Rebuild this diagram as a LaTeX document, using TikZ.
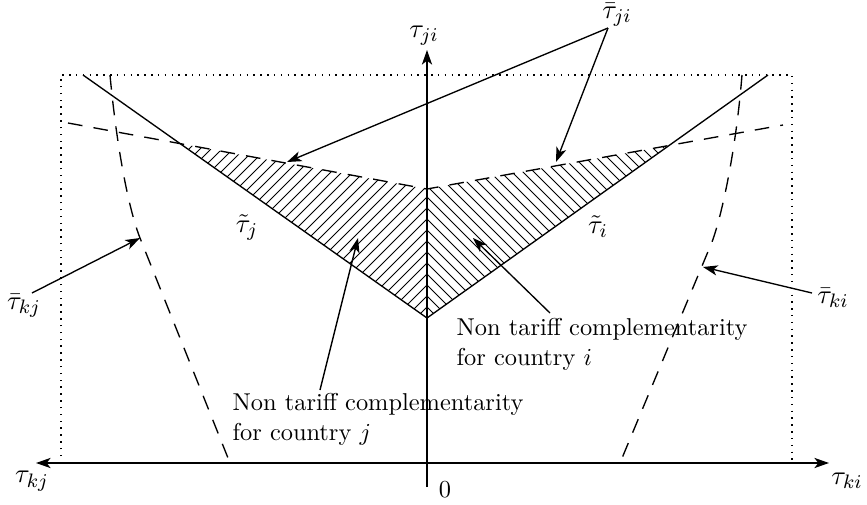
\documentclass[tikz,border=0pt]{standalone}
\usetikzlibrary{arrows.meta}
\begin{document}
\begin{tikzpicture}[x=0.41pt,y=-0.41pt, line width=0.55pt,
  dashedline/.style={dash pattern=on 6pt off 4.6pt},
  dottedline/.style={line width=0.6pt, dash pattern=on 0.6pt off 2.2pt},
  pointer/.style={-{Stealth[length=6pt,width=4.2pt,inset=1.6pt]}},
  hatch/.style={line width=0.4pt},
  lbl/.style={inner sep=1pt, font=\fontsize{11}{13}\selectfont}]
\useasboundingbox (0,0) rectangle (867,505);
% key points
\coordinate (Ytop) at (427,50);
\coordinate (Ybot) at (427,487);
\coordinate (Xl) at (36,463);
\coordinate (Xr) at (829,463);
\coordinate (V) at (427,318);
\coordinate (D) at (427,189);
\coordinate (Lt) at (83,75);
\coordinate (Rt) at (768,75);
\coordinate (DL) at (68,123);
\coordinate (DR) at (783,125);
\coordinate (PL) at (intersection of Lt--V and DL--D);
\coordinate (PR) at (intersection of Rt--V and DR--D);
% dotted box
\coordinate (B1) at (61,463);
\coordinate (B2) at (61,75);
\coordinate (B3) at (792,75);
\coordinate (B4) at (792,463);
\draw[dottedline] (B1) -- (B2) -- (B3) -- (B4);
% hatching
\begin{scope}
\clip (PL) -- (D) -- (V) -- cycle;
\foreach \c in {316,327,...,760} \draw[hatch] (\c-400,400) -- (\c-100,100);
\end{scope}
\begin{scope}
\clip (PR) -- (D) -- (V) -- cycle;
\foreach \c in {98,109,...,530} \draw[hatch] (\c+100,100) -- (\c+400,400);
\end{scope}
% main lines
\draw (Lt) -- (V) -- (Rt);
\draw[dashedline] (DL) -- (D) -- (DR);
% tau bar kj and ki curves
\coordinate (KJt) at (110,75);
\coordinate (KJm) at (140,238);
\coordinate (KJb) at (230,463);
\coordinate (KIt) at (742,75);
\coordinate (KIm) at (712,242);
\coordinate (KIb) at (620,463);
\draw[dashedline] (KJt) .. controls (117,150) and (129,210) .. (KJm) -- (KJb);
\draw[dashedline] (KIt) .. controls (736,150) and (722,215) .. (KIm) -- (KIb);
% axes
\draw[pointer] (Ybot) -- (Ytop);
\draw[{Stealth[length=6pt,width=4.2pt,inset=1.6pt]}-{Stealth[length=6pt,width=4.2pt,inset=1.6pt]}] (Xl) -- (Xr);
% labels
\node[lbl] (tji) at (424,36) {$\tau_{ji}$};
\node[lbl] (tkj) at (32,481) {$\tau_{kj}$};
\node[lbl] (tki) at (847,481) {$\tau_{ki}$};
\node[inner sep=1pt] (zero) at (445,490) {$0$};
\node[lbl] (tj) at (247,227) {$\tilde\tau_j$};
\node[lbl] (ti) at (598,227) {$\tilde\tau_i$};
\node[lbl] (bji) at (617,15) {$\bar\tau_{ji}$};
\node[lbl] (bkj) at (24,306) {$\bar\tau_{kj}$};
\node[lbl] (bki) at (833,298) {$\bar\tau_{ki}$};
\node[inner sep=0pt, align=left, anchor=north west] (nti) at (456,318)
  {Non tariff complementarity\\for country $i$};
\node[inner sep=0pt, align=left, anchor=north west] (ntj) at (232,393)
  {Non tariff complementarity\\for country $j$};
% pointers
\coordinate (Sji) at (608,28);
\coordinate (Aj) at (287,162);
\coordinate (Ai) at (556,162);
\draw[pointer] (Sji) -- (Aj);
\draw[pointer] (Sji) -- (Ai);
\coordinate (Skj) at (32,293);
\draw[pointer] (Skj) -- (KJm);
\coordinate (Ski) at (812,293);
\coordinate (Aki) at (703,267);
\draw[pointer] (Ski) -- (Aki);
\coordinate (Si) at (550,313);
\coordinate (Ahi) at (473,238);
\draw[pointer] (Si) -- (Ahi);
\coordinate (Sj) at (320,390);
\coordinate (Ahj) at (358,238);
\draw[pointer] (Sj) -- (Ahj);
\end{tikzpicture}
\end{document}
